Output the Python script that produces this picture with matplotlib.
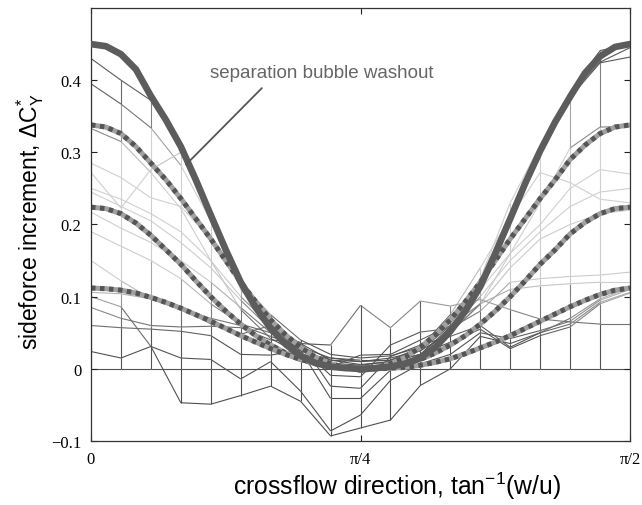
import numpy as np
import matplotlib
matplotlib.use('Agg')
import matplotlib.pyplot as plt
from matplotlib.collections import LineCollection

# crossflow direction grid of the measurements, 0..90 deg in 5 deg steps
angle_deg = np.arange(0, 91, 5)
x = np.deg2rad(angle_deg)
# finer grid for the smooth model curves, 2.5 deg steps
angle_fine = np.arange(0, 90.1, 2.5)
xf = np.deg2rad(angle_fine)

# smooth model curves (thick solid = full washout, dotted = partial)
washout = [0.450, 0.447, 0.436, 0.415, 0.378, 0.345, 0.308, 0.262, 0.213, 0.165,
           0.120, 0.085, 0.056, 0.034, 0.018, 0.008, 0.003, 0.001, 0.000,
           0.001, 0.003, 0.007, 0.015, 0.030, 0.052, 0.080, 0.114, 0.160,
           0.208, 0.257, 0.302, 0.342, 0.377, 0.410, 0.433, 0.446, 0.450]
partial_34 = [0.338, 0.335, 0.326, 0.308, 0.285, 0.262, 0.236, 0.208, 0.180, 0.150,
              0.120, 0.093, 0.068, 0.047, 0.030, 0.016, 0.007, 0.002, 0.000,
              0.002, 0.007, 0.016, 0.030, 0.047, 0.068, 0.093, 0.120, 0.150,
              0.180, 0.208, 0.236, 0.262, 0.290, 0.310, 0.326, 0.335, 0.338]
partial_22 = [0.224, 0.222, 0.215, 0.202, 0.185, 0.165, 0.145, 0.122, 0.100, 0.080,
              0.062, 0.046, 0.033, 0.022, 0.013, 0.007, 0.003, 0.001, 0.000,
              0.001, 0.003, 0.007, 0.013, 0.022, 0.033, 0.046, 0.062, 0.080,
              0.100, 0.122, 0.145, 0.165, 0.187, 0.203, 0.215, 0.222, 0.224]
partial_11 = [0.112, 0.111, 0.109, 0.105, 0.099, 0.092, 0.084, 0.075, 0.066, 0.056,
              0.046, 0.037, 0.028, 0.020, 0.013, 0.008, 0.003, 0.001, 0.000,
              0.000, 0.001, 0.002, 0.005, 0.009, 0.014, 0.021, 0.029, 0.037,
              0.046, 0.056, 0.066, 0.076, 0.086, 0.095, 0.103, 0.109, 0.112]

# measured sideforce increment, one row per test case (mesh rows)
mesh_rows = [
    [0.430, 0.400, 0.372, 0.310, 0.215, 0.120, 0.060, 0.025, 0.012, 0.006,
     0.010, 0.020, 0.058, 0.120, 0.215, 0.308, 0.384, 0.441, 0.450],
    [0.395, 0.367, 0.334, 0.282, 0.205, 0.112, 0.052, 0.018, 0.005, -0.005,
     0.000, 0.015, 0.052, 0.115, 0.208, 0.300, 0.376, 0.424, 0.432],
    [0.333, 0.315, 0.272, 0.222, 0.150, 0.082, 0.042, 0.020, 0.015, 0.012,
     0.012, 0.025, 0.050, 0.090, 0.160, 0.230, 0.306, 0.335, 0.336],
    [0.285, 0.265, 0.237, 0.225, 0.180, 0.120, 0.075, 0.040, 0.020, 0.015,
     0.018, 0.030, 0.075, 0.140, 0.210, 0.272, 0.258, 0.235, 0.230],
    [0.272, 0.223, 0.276, 0.300, 0.205, 0.110, 0.062, 0.030, 0.015, 0.010,
     0.015, 0.025, 0.060, 0.125, 0.230, 0.310, 0.380, 0.425, 0.445],
    [0.250, 0.235, 0.215, 0.190, 0.150, 0.100, 0.060, 0.035, 0.012, 0.010,
     0.012, 0.030, 0.065, 0.110, 0.160, 0.200, 0.250, 0.276, 0.270],
    [0.245, 0.225, 0.205, 0.175, 0.140, 0.095, 0.055, 0.025, 0.008, 0.005,
     0.010, 0.020, 0.055, 0.100, 0.150, 0.190, 0.225, 0.245, 0.250],
    [0.217, 0.195, 0.175, 0.150, 0.120, 0.085, 0.050, 0.020, 0.005, 0.003,
     0.006, 0.018, 0.050, 0.090, 0.140, 0.180, 0.200, 0.215, 0.220],
    [0.190, 0.170, 0.150, 0.125, 0.090, 0.062, 0.050, 0.026, 0.003, 0.019,
     0.020, 0.040, 0.060, 0.090, 0.110, 0.115, 0.118, 0.120, 0.120],
    [0.150, 0.122, 0.097, 0.083, 0.070, 0.060, 0.045, 0.030, -0.009, -0.011,
     0.033, 0.051, 0.056, 0.080, 0.120, 0.125, 0.128, 0.130, 0.134],
    [0.106, 0.104, 0.097, 0.086, 0.062, 0.048, 0.060, 0.035, 0.033, 0.088,
     0.057, 0.094, 0.087, 0.096, 0.082, 0.069, 0.065, 0.062, 0.062],
    [0.085, 0.070, 0.060, 0.058, 0.059, 0.057, 0.040, 0.037, -0.024, -0.027,
     0.017, 0.033, 0.045, 0.060, 0.030, 0.050, 0.070, 0.097, 0.112],
    [0.060, 0.057, 0.055, 0.052, 0.046, 0.020, 0.019, 0.026, -0.041, -0.041,
     -0.002, 0.020, 0.037, 0.055, 0.028, 0.046, 0.058, 0.090, 0.105],
    [0.024, 0.015, 0.031, 0.015, 0.013, -0.014, 0.010, -0.031, -0.086, -0.064,
     -0.016, 0.007, 0.020, 0.050, 0.042, 0.053, 0.066, 0.095, 0.110],
    [0.100, 0.086, 0.031, -0.047, -0.049, -0.037, -0.024, -0.045, -0.093, -0.082,
     -0.071, -0.023, 0.000, 0.045, 0.035, 0.050, 0.062, 0.092, 0.106],
    [0.0] * 19,
]

# grey level by height (jet colormap printed in greyscale)
knots = [-0.1, 0.04, 0.08, 0.12, 0.28, 0.32, 0.38, 0.45]
greys = [0.30, 0.33, 0.55, 0.80, 0.82, 0.55, 0.38, 0.33]


def shade(v):
    g = np.interp(v, knots, greys)
    return (g, g, g)


plt.rcParams['mathtext.fontset'] = 'custom'
plt.rcParams['mathtext.rm'] = 'Liberation Sans'
plt.rcParams['mathtext.it'] = 'Liberation Sans'

fig = plt.figure(figsize=(6.42, 5.06), dpi=100)
ax = fig.add_axes([91 / 642, 1 - 442 / 506, 539 / 642, 433 / 506])

# mesh rows
segs, cols = [], []
for row in mesh_rows:
    for i in range(len(x) - 1):
        segs.append([(x[i], row[i]), (x[i + 1], row[i + 1])])
        cols.append(shade(0.5 * (row[i] + row[i + 1])))
# mesh columns
Z = np.array(mesh_rows)
for i in range(len(x)):
    col = np.sort(Z[:, i])
    for a, b in zip(col[:-1], col[1:]):
        segs.append([(x[i], a), (x[i], b)])
        cols.append(shade(a))
ax.add_collection(LineCollection(segs, colors=cols, linewidths=0.8, zorder=1))

for curve in [partial_34, partial_22, partial_11]:
    ax.plot(xf, curve, color='#a0a0a0', lw=3.6, solid_capstyle='butt', zorder=2)
    ax.plot(xf, curve, color='#555555', lw=3.6, dashes=(0.9, 0.9),
            dash_capstyle='butt', zorder=2)
ax.plot(xf, washout, color='#5c5c5c', lw=4.8, solid_capstyle='round',
        solid_joinstyle='round', zorder=3)

ax.text(0.347, 0.411, 'separation bubble washout', fontsize=13.5,
        color='#666666', family='Liberation Sans', va='center', ha='left')
ax.annotate('', xy=(0.277, 0.283), xytext=(0.498, 0.389),
            arrowprops=dict(arrowstyle='-', color='#555555', lw=1.3,
                            shrinkA=0, shrinkB=0))

ax.set_xlim(0, np.pi / 2)
ax.set_ylim(-0.1, 0.5)
ax.set_xticks([0, np.pi / 4, np.pi / 2])
ax.set_xticklabels(['0', 'π/4', 'π/2'], family='Liberation Serif', fontsize=12)
ax.set_yticks([-0.1, 0, 0.1, 0.2, 0.3, 0.4])
ax.set_yticklabels(['\u22120.1', '0', '0.1', '0.2', '0.3', '0.4'],
                   family='Liberation Serif', fontsize=12)
ax.tick_params(direction='in', top=True, right=True, length=4, width=0.8,
               color='#222222', pad=7)
for s in ax.spines.values():
    s.set_color('#333333')
    s.set_linewidth(0.9)

ax.set_xlabel(r'crossflow direction, tan$^{-1}$(w/u)', family='Liberation Sans',
              fontsize=17.8, va='top')
ax.xaxis.set_label_coords(0.568, -0.066)
ax.set_ylabel(r'sideforce increment, $\mathrm{\Delta C}_\mathrm{Y}^{*}$',
              family='Liberation Sans', fontsize=16.5, va='center')
ax.yaxis.set_label_coords(-0.113, 0.51)

fig.savefig('out.png', dpi=100)
